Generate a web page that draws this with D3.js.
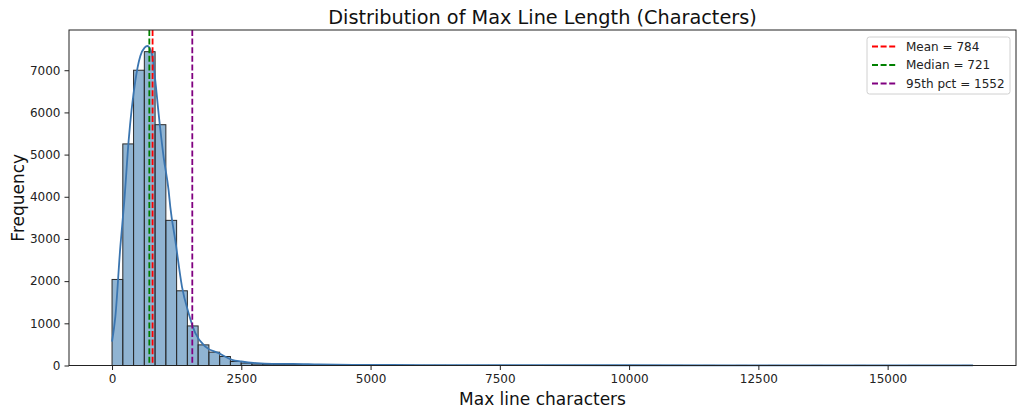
<!DOCTYPE html>
<html>
<head>
<meta charset="utf-8">
<script src="https://cdn.jsdelivr.net/npm/d3@7"></script>
<style>
  html, body { margin: 0; padding: 0; background: #fff; }
  svg { display: block; font-family: "DejaVu Sans", sans-serif; }
</style>
</head>
<body>
<svg id="chart" width="1024" height="416"></svg>
<script>
// ---- data ----
const dataMin = 0;
const dataMax = 16650;
const binCounts = [
  2040, 5253, 7000, 7440, 5709, 3441, 1771, 938, 489, 316,
  213, 95, 57, 35, 28, 22, 26, 24, 15, 12,
  10, 8, 7, 6, 5, 5, 4, 4, 3, 3,
  3, 2, 2, 2, 2, 2, 1, 1, 1, 1,
  1, 1, 1, 1, 1, 1, 1, 0, 1, 0,
  1, 0, 1, 0, 0, 1, 0, 0, 1, 0,
  0, 1, 0, 0, 0, 1, 0, 0, 0, 1,
  0, 0, 0, 0, 1, 0, 0, 0, 0, 1
];
const kdeX = [0, 64, 160, 238, 321, 450, 547, 630, 683, 773, 837, 901, 998, 1094, 1127, 1224, 1353, 1481, 1611, 1804, 2061, 2320, 2500, 2800, 3100, 3500, 4000, 5000, 6000, 8000, 10000, 12000, 14000, 16650];
const kdeY = [567, 1157, 2811, 3914, 5331, 6748, 7338, 7534, 7575, 7378, 6748, 5968, 4936, 4150, 3755, 2960, 1866, 1238, 765, 449, 293, 135, 95, 55, 40, 38, 25, 14, 10, 8, 6, 5, 4, 3];
const refNames = ["Mean = 784", "Median = 721", "95th pct = 1552"];
const refValues = [784, 721, 1552];
const refColors = ["red", "green", "purple"];
const xTicks = [0, 2500, 5000, 7500, 10000, 12500, 15000];
const yTicks = [0, 1000, 2000, 3000, 4000, 5000, 6000, 7000];
const titleText = "Distribution of Max Line Length (Characters)";
const xLabel = "Max line characters";
const yLabel = "Frequency";

// ---- layout ----
const svg = d3.select("#chart");
const L = 69, R = 1016, T = 30, B = 365.5;
const binW = (dataMax - dataMin) / binCounts.length;
const bins = binCounts.map((c, i) => ({ x0: dataMin + i * binW, x1: dataMin + (i + 1) * binW, c }));
const pad = (dataMax - dataMin) * 0.05;
const x = d3.scaleLinear().domain([dataMin - pad, dataMax + pad]).range([L, R]);
const yMax = Math.max(d3.max(binCounts), d3.max(kdeY)) * 1.05;
const y = d3.scaleLinear().domain([0, yMax]).range([B, T]);

const g = svg.append("g");

// bars
g.selectAll("rect.bar").data(bins.filter(b => b.c > 0)).join("rect")
  .attr("x", d => x(d.x0))
  .attr("y", d => y(d.c))
  .attr("width", d => x(d.x1) - x(d.x0))
  .attr("height", d => y(0) - y(d.c))
  .attr("fill", "rgb(70,130,180)")
  .attr("fill-opacity", 0.6)
  .attr("stroke", "#2a2a2a")
  .attr("stroke-width", 1);

// kde
const line = d3.line().x((d, i) => x(kdeX[i])).y(d => y(d)).curve(d3.curveMonotoneX);
g.append("path").datum(kdeY).attr("d", line)
  .attr("fill", "none").attr("stroke", "rgb(58,117,176)").attr("stroke-width", 1.8);

// ref lines
refValues.forEach((v, i) => {
  g.append("line").attr("x1", x(v)).attr("x2", x(v)).attr("y1", T).attr("y2", B)
    .attr("stroke", refColors[i]).attr("stroke-width", 1.8).attr("stroke-dasharray", "6,2.6");
});

// axes
const xAxis = d3.axisBottom(x).tickValues(xTicks).tickSize(4.5).tickPadding(4).tickFormat(d3.format("d"));
const yAxis = d3.axisLeft(y).tickValues(yTicks).tickSize(4.5).tickPadding(4).tickFormat(d3.format("d"));
const gx = svg.append("g").attr("transform", `translate(0,${B})`).call(xAxis);
const gy = svg.append("g").attr("transform", `translate(${L},0)`).call(yAxis);
[gx, gy].forEach(a => {
  a.select(".domain").remove();
  a.selectAll("text").attr("font-size", 12).attr("fill", "#222").attr("font-family", "DejaVu Sans");
  a.selectAll("line").attr("stroke", "#222");
});

// frame
svg.append("rect").attr("x", L).attr("y", T).attr("width", R - L).attr("height", B - T)
  .attr("fill", "none").attr("stroke", "#222").attr("stroke-width", 1);

// titles
svg.append("text").attr("x", (L + R) / 2).attr("y", 23.5).attr("text-anchor", "middle")
  .attr("font-size", 19.3).attr("fill", "#111").text(titleText);
svg.append("text").attr("x", (L + R) / 2).attr("y", 405).attr("text-anchor", "middle")
  .attr("font-size", 17).attr("fill", "#111").text(xLabel);
svg.append("text").attr("transform", `translate(23.5,${(T + B) / 2}) rotate(-90)`).attr("text-anchor", "middle")
  .attr("font-size", 17).attr("fill", "#111").text(yLabel);

// legend
const lg = svg.append("g").attr("transform", "translate(867,37)");
lg.append("rect").attr("x", 0).attr("y", 0).attr("width", 143).attr("height", 57).attr("rx", 2.5)
  .attr("fill", "#fff").attr("fill-opacity", 0.8).attr("stroke", "#d0d0d0");
refNames.forEach((nm, i) => {
  const yy = 9.5 + i * 18.5;
  lg.append("line").attr("x1", 5).attr("x2", 30).attr("y1", yy).attr("y2", yy)
    .attr("stroke", refColors[i]).attr("stroke-width", 1.8).attr("stroke-dasharray", "6,2.6");
  lg.append("text").attr("x", 39).attr("y", yy + 4.3).attr("font-size", 12).attr("fill", "#222").text(nm);
});
</script>
</body>
</html>
